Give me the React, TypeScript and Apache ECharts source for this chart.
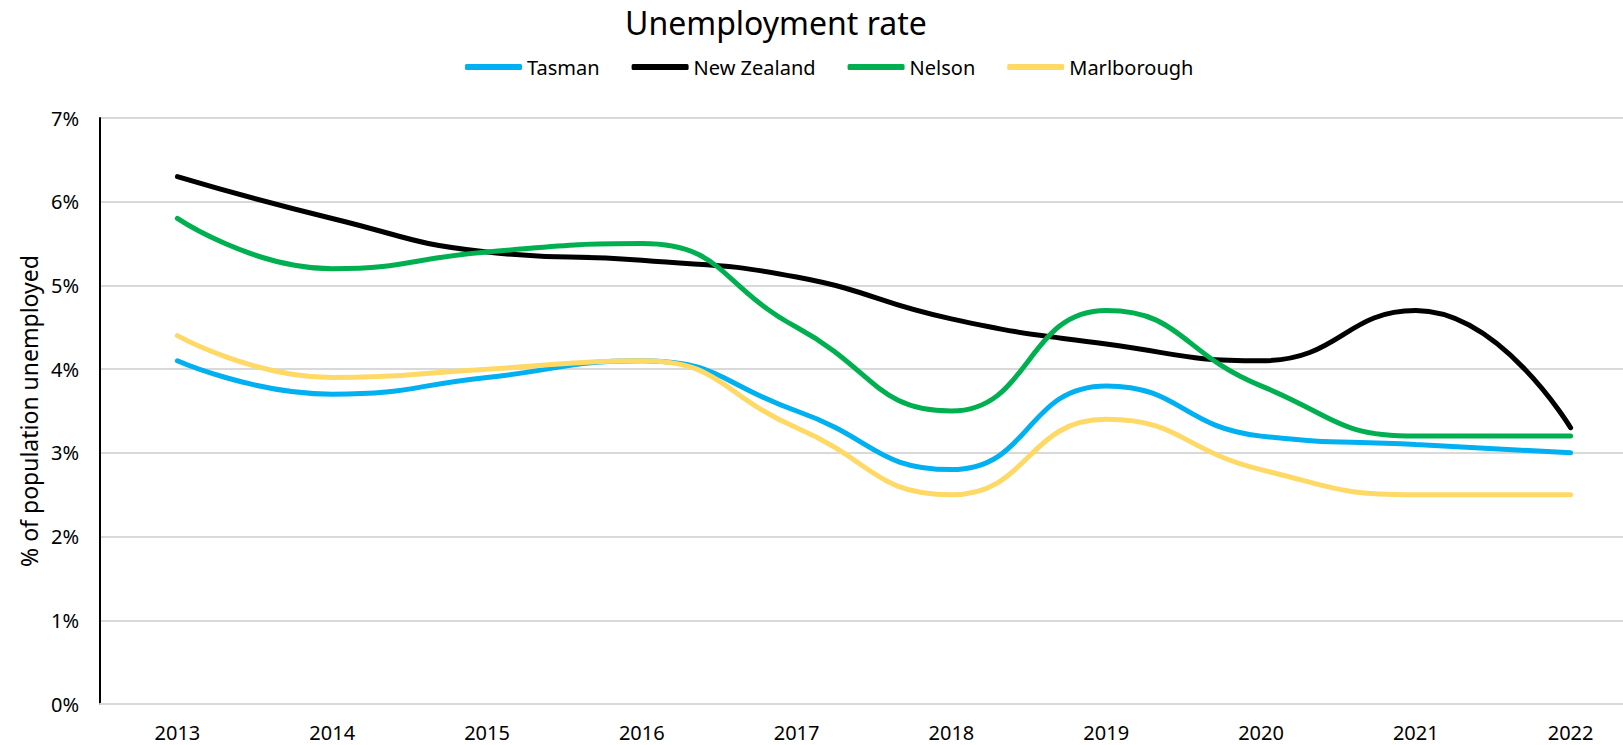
import React, { useEffect, useRef } from "react";
import * as echarts from "echarts";

const years = ["2013", "2014", "2015", "2016", "2017", "2018", "2019", "2020", "2021", "2022"];
const tasman = [4.1, 3.7, 3.9, 4.1, 3.5, 2.8, 3.8, 3.2, 3.1, 3.0];
const newZealand = [6.3, 5.8, 5.4, 5.3, 5.1, 4.6, 4.3, 4.1, 4.7, 3.3];
const nelson = [5.8, 5.2, 5.4, 5.5, 4.5, 3.5, 4.7, 3.8, 3.2, 3.2];
const marlborough = [4.4, 3.9, 4.0, 4.1, 3.3, 2.5, 3.4, 2.8, 2.5, 2.5];

const FONT = "Noto Sans";

export default function App() {
  const ref = useRef<HTMLDivElement>(null);
  useEffect(() => {
    document.body.style.margin = "0";
    document.body.style.overflow = "hidden";
    if (!ref.current) return;
    const chart = echarts.init(ref.current, undefined, { renderer: "svg" });
    const mk = (name: string, data: number[], color: string) => ({
      name,
      type: "line",
      data,
      smooth: 0.5,
      symbol: "none",
      lineStyle: { width: 5, color, cap: "round", join: "round" },
      itemStyle: { color },
    });
    chart.setOption({
      animation: false,
      backgroundColor: "#ffffff",
      title: {
        text: "Unemployment rate",
        left: 620,
        top: 1,
        textStyle: { fontFamily: FONT, fontSize: 32, fontWeight: "normal", color: "#000000" },
      },
      legend: {
        left: 460,
        top: 52,
        icon: "roundRect",
        itemWidth: 57,
        itemHeight: 6,
        itemGap: 32,
        itemStyle: { borderWidth: 0 },
        textStyle: { fontFamily: FONT, fontSize: 20, color: "#000000", padding: [0, 0, 0, 0] },
        data: ["Tasman", "New Zealand", "Nelson", "Marlborough"],
      },
      grid: { left: 100, right: 2, top: 118, bottom: 41, containLabel: false },
      xAxis: {
        type: "category",
        data: years,
        boundaryGap: true,
        axisLine: { show: true, lineStyle: { color: "#d9d9d9", width: 2 } },
        axisTick: { show: false },
        axisLabel: { fontFamily: FONT, fontSize: 20, color: "#000000", margin: 18 },
      },
      yAxis: {
        type: "value",
        min: 0,
        max: 7,
        interval: 1,
        name: "% of population unemployed",
        nameLocation: "middle",
        nameGap: 60,
        nameTextStyle: { fontFamily: FONT, fontSize: 23, color: "#000000" },
        axisLine: { show: true, lineStyle: { color: "#000000", width: 2 } },
        axisTick: { show: false },
        splitLine: { show: true, lineStyle: { color: "#d9d9d9", width: 2 } },
        axisLabel: { fontFamily: FONT, fontSize: 20, color: "#000000", margin: 21, formatter: "{value}%" },
      },
      series: [
        mk("Tasman", tasman, "#00b0f0"),
        mk("New Zealand", newZealand, "#000000"),
        mk("Nelson", nelson, "#00b050"),
        mk("Marlborough", marlborough, "#ffd966"),
      ],
    });
    return () => chart.dispose();
  }, []);
  return (
    <div
      ref={ref}
      style={{ position: "fixed", left: 0, top: 0, width: "1650px", height: "745px" }}
    />
  );
}
